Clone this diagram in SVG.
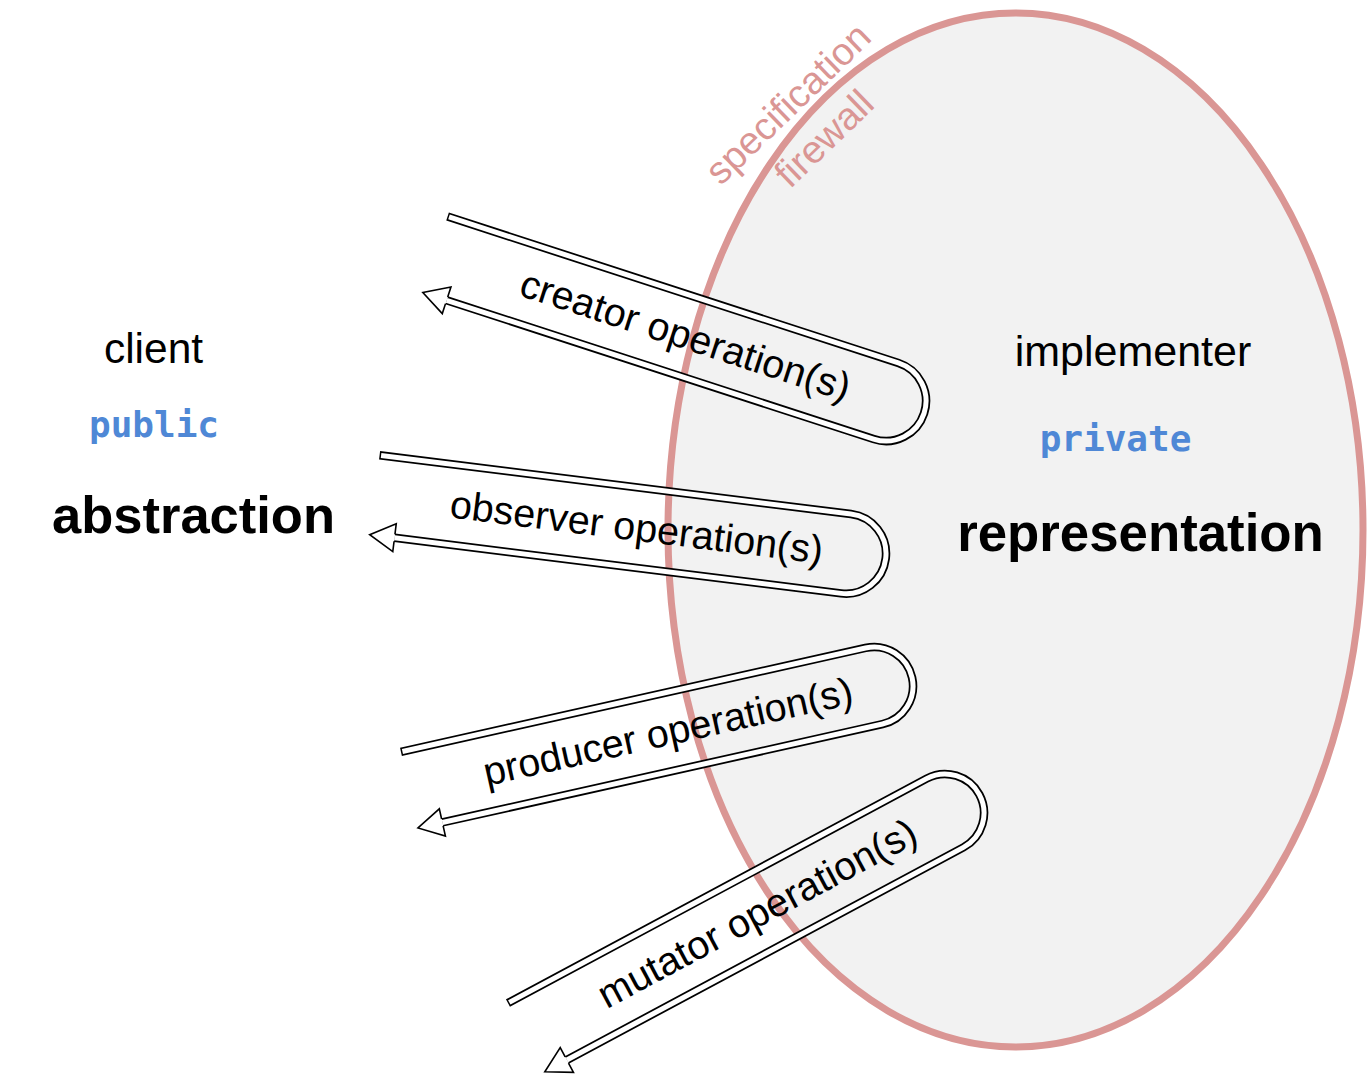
<svg xmlns="http://www.w3.org/2000/svg" width="1367" height="1079" viewBox="0 0 1367 1079">
<defs>
<style>
.edge{fill:none;stroke:#000;stroke-width:8.5;stroke-linejoin:round}
.inner{fill:none;stroke:#fff;stroke-width:5;stroke-linejoin:round}
.head{fill:#fff;stroke:#000;stroke-width:1.6;stroke-linejoin:miter}
.lbl{font-family:"Liberation Sans",Arial,sans-serif;font-size:39.5px;fill:#000;text-anchor:middle}
.sans{font-family:"Liberation Sans",Arial,sans-serif;fill:#000;text-anchor:middle}
.mono{font-family:"DejaVu Sans Mono","Liberation Mono",monospace;font-weight:bold;fill:#4f88d6;text-anchor:middle}
.fw{font-family:"Liberation Sans",Arial,sans-serif;font-size:38.5px;fill:#da9694;text-anchor:middle}
</style>
</defs>
<rect width="1367" height="1079" fill="#fff"/>
<g id="firewall">
<ellipse cx="1015.5" cy="530" rx="347.5" ry="517" fill="#f2f2f2" stroke="#da9694" stroke-width="7"/>
<text class="fw" transform="translate(797,113) rotate(-44)">specification</text>
<text class="fw" transform="translate(833,148) rotate(-44)">firewall</text>
</g>
<g id="client">
<text class="sans" x="153.5" y="363" font-size="42.5">client</text>
<text class="mono" x="154" y="437" font-size="36">public</text>
<text class="sans" x="193.5" y="533" font-size="52.5" font-weight="bold">abstraction</text>
</g>
<g id="implementer">
<text class="sans" x="1133" y="366" font-size="43">implementer</text>
<text class="mono" x="1115.5" y="451" font-size="36">private</text>
<text class="sans" x="1140.5" y="551" font-size="52.8" font-weight="bold">representation</text>
</g>
<g id="connectors">
<g id="creator" transform="translate(886,401) rotate(18)">
<path class="edge" d="M-474,-40 L0,-40 A40,40 0 0 1 0,40 L-449,40"/>
<path class="inner" d="M-472.5,-40 L0,-40 A40,40 0 0 1 0,40 L-449,40"/>
<path class="head" d="M-449,36.5 L-449,26 L-474,40 L-449,54 L-449,43.5"/>
<text class="lbl" x="-211" y="13">creator operation(s)</text>
</g>
<g id="observer" transform="translate(846,553.7) rotate(7.1)">
<path class="edge" d="M-475,-40 L0,-40 A40,40 0 0 1 0,40 L-450,40"/>
<path class="inner" d="M-473.5,-40 L0,-40 A40,40 0 0 1 0,40 L-450,40"/>
<path class="head" d="M-450,36.5 L-450,26 L-475,40 L-450,54 L-450,43.5"/>
<text class="lbl" x="-211" y="13">observer operation(s)</text>
</g>
<g id="producer" transform="translate(874,686) rotate(-12.6)">
<path class="edge" d="M-476,-39 L0,-39 A39,39 0 0 1 0,39 L-451,39"/>
<path class="inner" d="M-474.5,-39 L0,-39 A39,39 0 0 1 0,39 L-451,39"/>
<path class="head" d="M-451,35.5 L-451,25 L-476,39 L-451,53 L-451,42.5"/>
<text class="lbl" x="-211" y="13">producer operation(s)</text>
</g>
<g id="mutator" transform="translate(945,813) rotate(-28.2)">
<path class="edge" d="M-475,-39 L0,-39 A39,39 0 0 1 0,39 L-450,39"/>
<path class="inner" d="M-473.5,-39 L0,-39 A39,39 0 0 1 0,39 L-450,39"/>
<path class="head" d="M-450,35.5 L-450,25 L-475,39 L-450,53 L-450,42.5"/>
<text class="lbl" x="-213" y="13">mutator operation(s)</text>
</g>
</g>
</svg>
